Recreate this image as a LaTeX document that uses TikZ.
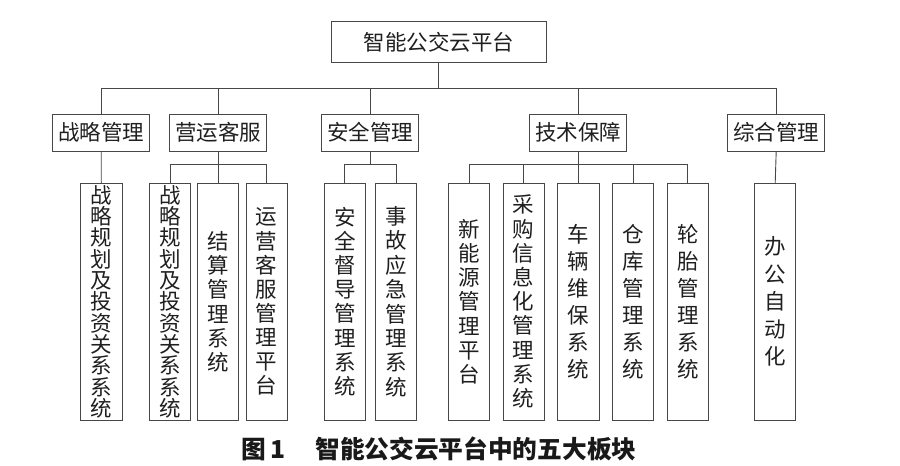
\documentclass[tikz,border=0pt]{standalone}
\usepackage{fontspec}
\newfontfamily\cjk{Noto Sans CJK SC}
\tikzset{
  line/.style={draw=black!72, line width=0.9pt},
  box/.style={draw=black!72, line width=0.9pt, inner sep=0pt, align=center, text=black!88},
  hbox/.style={box, minimum width=97pt, minimum height=36.7pt, font=\cjk\fontsize{21.5}{22}\selectfont},
  vbox/.style={box, minimum width=41.3pt, minimum height=236.7pt},
}
\newcommand{\vfont}[1]{\cjk\fontsize{21.5}{#1}\selectfont}
\begin{document}
\begin{tikzpicture}[x=1pt,y=-1pt]
\useasboundingbox (0,0) rectangle (900,466);
% top
\node[box, minimum width=214.3pt, minimum height=41pt, font=\cjk\fontsize{21.5}{22}\selectfont] (top) at (438.8,42.2) {智能公交云平台};
% level 2
\node[hbox] (a) at (101.2,132.7) {战略管理};
\node[hbox] (b) at (218.3,132.7) {营运客服};
\node[hbox] (c) at (370.3,132.7) {安全管理};
\node[hbox] (d) at (578.3,132.7) {技术保障};
\node[hbox] (e) at (776.2,132.7) {综合管理};
% level 3
\node[vbox, font=\vfont{21.3}] (a1) at (101.3,301.7) {战\\略\\规\\划\\及\\投\\资\\关\\系\\系\\统};
\node[vbox, font=\vfont{21.3}] (b1) at (170,301.7) {战\\略\\规\\划\\及\\投\\资\\关\\系\\系\\统};
\node[vbox, font=\vfont{24.3}] (b2) at (218.2,301.7) {结\\算\\管\\理\\系\\统};
\node[vbox, font=\vfont{24.1}] (b3) at (266.7,301.7) {运\\营\\客\\服\\管\\理\\平\\台};
\node[vbox, font=\vfont{24.1}] (c1) at (344.8,301.7) {安\\全\\督\\导\\管\\理\\系\\统};
\node[vbox, font=\vfont{24.4}] (c2) at (396.2,301.7) {事\\故\\应\\急\\管\\理\\系\\统};
\node[vbox, font=\vfont{24.2}] (d1) at (469,301.7) {新\\能\\源\\管\\理\\平\\台};
\node[vbox, font=\vfont{24.2}] (d2) at (523.7,301.7) {采\\购\\信\\息\\化\\管\\理\\系\\统};
\node[vbox, font=\vfont{27}] (d3) at (578.5,301.7) {车\\辆\\维\\保\\系\\统};
\node[vbox, font=\vfont{27}] (d4) at (633,301.7) {仓\\库\\管\\理\\系\\统};
\node[vbox, font=\vfont{27}] (d5) at (687.8,301.7) {轮\\胎\\管\\理\\系\\统};
\node[vbox, font=\vfont{27.5}] (e1) at (775.2,301.7) {办\\公\\自\\动\\化};
% buses
\coordinate (bus0) at (438.8,88.3);
\coordinate (busb) at (218.3,164.5);
\coordinate (busc) at (370.3,164.5);
\coordinate (busd) at (578.3,164.5);
% connectors
\draw[line] (top.south) -- (bus0);
\foreach \n in {a,b,c,d,e} \draw[line] (bus0) -| (\n.north);
\draw[line] (a.south) -- (a1.north);
\draw[line] (b.south) -- (busb);
\foreach \n in {b1,b2,b3} \draw[line] (busb) -| (\n.north);
\draw[line] (c.south) -- (busc);
\foreach \n in {c1,c2} \draw[line] (busc) -| (\n.north);
\draw[line] (d.south) -- (busd);
\foreach \n in {d1,d2,d3,d4,d5} \draw[line] (busd) -| (\n.north);
\draw[line] (e.south) -- (e1.north);
% caption
\node[anchor=west, inner sep=0pt, text=black!90, font=\cjk\bfseries\fontsize{24.7}{25}\selectfont] (cap) at (241.7,449) {图\,1\hspace{1.2em}智能公交云平台中的五大板块};
\end{tikzpicture}
\end{document}
